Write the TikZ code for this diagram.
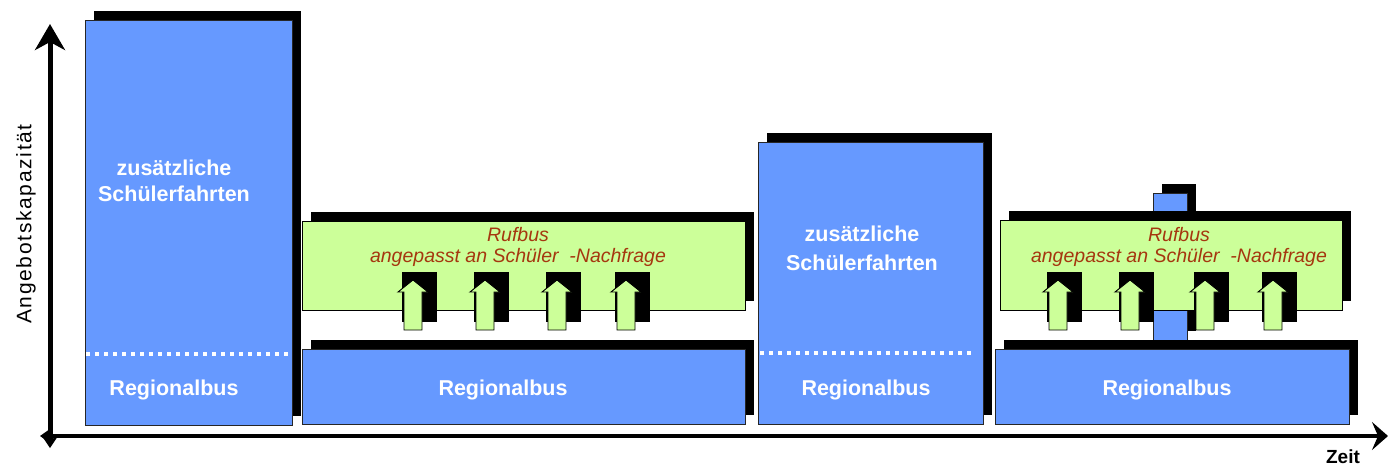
\documentclass[tikz,border=0pt]{standalone}
\usepackage{fontspec}
\setmainfont{Liberation Sans}
\usetikzlibrary{arrows.meta}
\definecolor{busblue}{HTML}{6699FF}
\definecolor{rufgreen}{HTML}{CCFF99}
\definecolor{ruftextc}{RGB}{165,55,15}
\tikzset{
  busbox/.style={fill=busblue, draw=black!85, line width=0.9pt},
  rufbox/.style={fill=rufgreen, draw=black, line width=0.9pt},
  shadowfill/.style={fill=black},
  bustext/.style={text=white, font=\bfseries\fontsize{21.5}{26}\selectfont, align=center, inner sep=0pt},
  ruftext/.style={text=ruftextc, font=\itshape\fontsize{19.5}{21}\selectfont, align=center, inner sep=0pt},
  axisline/.style={line width=5pt, black},
  dotline/.style={white, line width=4pt, dash pattern=on 4pt off 5pt},
  uparrow/.style={fill=rufgreen, draw=black, line width=0.9pt, line join=miter}
}
% box with shadow offset up-right
\newcommand{\mybox}[6]{%
  \fill[shadowfill] (#1+9,#2-9) rectangle (#3+9,#4-9);
  \draw[#5] (#1,#2) rectangle (#3,#4);
  \coordinate (#6) at ({(#1+#3)/2},{(#2+#4)/2});
}
\newcommand{\myuparrow}[1]{%
  \fill[shadowfill] (#1-11,272) rectangle (#1+24,322);
  \draw[uparrow] (#1-9,330) -- (#1-9,292) -- (#1-15,292) -- (#1,280) -- (#1+15,292) -- (#1+9,292) -- (#1+9,330) -- cycle;
}
\begin{document}
\begin{tikzpicture}[x=1pt,y=-1pt]
\useasboundingbox (0,0) rectangle (1388,467);

% axes
\coordinate (ybot) at (50,448);
\coordinate (ytop) at (50,24);
\coordinate (xleft) at (40,436);
\coordinate (xright) at (1388,436);
\draw[axisline, {Stealth[length=12pt,width=16pt]}-{Stealth[length=26pt,width=30pt,inset=8pt]}] (ybot) -- (ytop);
\draw[axisline, line width=4.5pt, {Stealth[length=10pt,width=14pt]}-{Stealth[length=16pt,width=28pt,inset=6pt]}] (xleft) -- (xright);
\node[rotate=90, font=\fontsize{21}{24}\selectfont\addfontfeature{LetterSpace=8}, inner sep=0pt] (ylab) at (26,224) {Angebotskapazität};
\node[font=\bfseries\fontsize{19}{22}\selectfont, inner sep=0pt] (zeit) at (1343,457) {Zeit};

% box 1
\mybox{85}{20}{292}{425}{busbox}{b1}
\coordinate (d1a) at (86,354); \coordinate (d1b) at (292,354);
\draw[dotline] (d1a) -- (d1b);
\node[bustext] (t1) at (174,181) {zusätzliche\\Schülerfahrten};
\node[bustext] (r1) at (174,390) {Regionalbus};

% box 2
\mybox{302}{221}{745}{310}{rufbox}{g2}
\node[ruftext] (f2) at (518,247) {Rufbus\\angepasst an Schüler\ \ -Nachfrage};
\myuparrow{413}
\myuparrow{485}
\myuparrow{557}
\myuparrow{626}
\mybox{302}{349}{745}{424}{busbox}{l2}
\node[bustext] (r2) at (503,390) {Regionalbus};

% box 3
\mybox{758}{142}{983}{424}{busbox}{b3}
\coordinate (d3a) at (760,353); \coordinate (d3b) at (972,353);
\draw[dotline] (d3a) -- (d3b);
\node[bustext, font=\bfseries\fontsize{21.5}{29}\selectfont] (t3) at (862,248) {zusätzliche\\Schülerfahrten};
\node[bustext] (r3) at (866,390) {Regionalbus};

% box 4
\mybox{1153}{193}{1187}{340}{busbox}{s4}
\mybox{1000}{220}{1342}{310}{rufbox}{g4}
\node[ruftext] (f4) at (1179,247) {Rufbus\\angepasst an Schüler\ \ -Nachfrage};
\myuparrow{1058}
\myuparrow{1130}
\myuparrow{1205}
\myuparrow{1273}
\mybox{995}{349}{1349}{424}{busbox}{l4}
\node[bustext] (r4) at (1167,390) {Regionalbus};
\end{tikzpicture}
\end{document}
